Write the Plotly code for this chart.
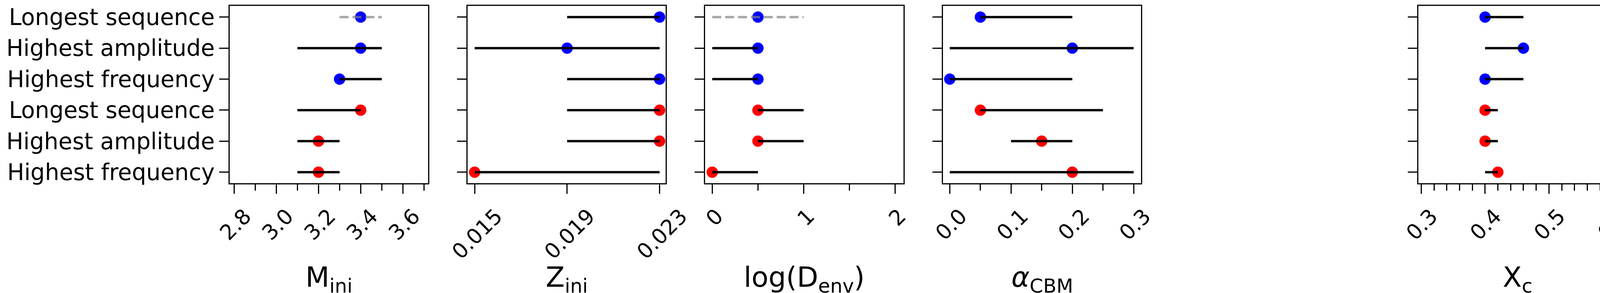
import plotly.graph_objects as go

# rows, top to bottom
row_labels = ["Longest sequence", "Highest amplitude", "Highest frequency",
              "Longest sequence", "Highest amplitude", "Highest frequency"]
row_set = [1, 1, 1, 2, 2, 2]

m_ini_best = [3.4, 3.4, 3.3, 3.4, 3.2, 3.2]
m_ini_lo = [3.3, 3.1, 3.3, 3.1, 3.1, 3.1]
m_ini_hi = [3.5, 3.5, 3.5, 3.4, 3.3, 3.3]
m_ini_open = [True, False, False, False, False, False]

z_ini_best = [0.023, 0.019, 0.023, 0.023, 0.023, 0.015]
z_ini_lo = [0.019, 0.015, 0.019, 0.019, 0.019, 0.015]
z_ini_hi = [0.023, 0.023, 0.023, 0.023, 0.023, 0.023]
z_ini_open = [False, False, False, False, False, False]

log_denv_best = [0.5, 0.5, 0.5, 0.5, 0.5, 0.0]
log_denv_lo = [0.0, 0.0, 0.0, 0.5, 0.5, 0.0]
log_denv_hi = [1.0, 0.5, 0.5, 1.0, 1.0, 0.5]
log_denv_open = [True, False, False, False, False, False]

a_cbm_best = [0.05, 0.2, 0.0, 0.05, 0.15, 0.2]
a_cbm_lo = [0.05, 0.0, 0.0, 0.05, 0.1, 0.0]
a_cbm_hi = [0.2, 0.3, 0.2, 0.25, 0.2, 0.3]
a_cbm_open = [False, False, False, False, False, False]

xc_best = [0.40, 0.46, 0.40, 0.40, 0.40, 0.42]
xc_lo = [0.40, 0.40, 0.40, 0.40, 0.40, 0.40]
xc_hi = [0.46, 0.46, 0.46, 0.42, 0.42, 0.42]
xc_open = [False, False, False, False, False, False]

SET_COLORS = {1: "#0000ff", 2: "#ff0000"}
FONT = "DejaVu Sans"
W, H = 4200, 750

# panel geometry in px (slot 4 is left empty, as in the original)
PANEL_LEFT0 = 588.3
PANEL_STEP = 608.5
PANEL_W = 507.5
BOX_TOP, BOX_BOT = 15.2, 469.3
TITLE_MID = 714

panels = [
    dict(slot=0, title="M<sub>ini</sub>", best=m_ini_best, lo=m_ini_lo, hi=m_ini_hi, open=m_ini_open,
         range=[2.7796, 3.7194], tick0=2.8, dtick=0.2, minor=0.1, fmt=".1f", shift=28),
    dict(slot=1, title="Z<sub>ini</sub>", best=z_ini_best, lo=z_ini_lo, hi=z_ini_hi, open=z_ini_open,
         range=[0.01469, 0.023266], tick0=0.015, dtick=0.004, minor=None, fmt=".3f", shift=55),
    dict(slot=2, title="log(D<sub>env</sub>)", best=log_denv_best, lo=log_denv_lo, hi=log_denv_hi,
         open=log_denv_open, range=[-0.077, 2.092], tick0=0, dtick=1, minor=0.5, fmt="d", shift=12),
    dict(slot=3, title="<i>α</i><sub>CBM</sub>", best=a_cbm_best, lo=a_cbm_lo, hi=a_cbm_hi, open=a_cbm_open,
         range=[-0.0112, 0.3123], tick0=0, dtick=0.1, minor=0.05, fmt=".1f", shift=28),
    dict(slot=5, title="X<sub>c</sub>", best=xc_best, lo=xc_lo, hi=xc_hi, open=xc_open,
         range=[0.2954, 0.6058], tick0=0.3, dtick=0.1, minor=0.02, fmt=".1f", shift=26),
]

rows = list(range(len(row_labels)))
fig = go.Figure()

for k, p in enumerate(panels):
    n = k + 1
    xa = "x" if n == 1 else f"x{n}"
    ya = "y" if n == 1 else f"y{n}"

    # best-fit points
    for s, col in SET_COLORS.items():
        idx = [i for i in rows if row_set[i] == s]
        fig.add_trace(go.Scatter(
            x=[p["best"][i] for i in idx], y=idx, xaxis=xa, yaxis=ya,
            mode="markers", marker=dict(size=29, color=col, line=dict(width=0)),
            hoverinfo="skip", showlegend=False,
        ))

    # intervals, drawn on top of the points
    for i in rows:
        if p["open"][i]:
            line = dict(color="rgba(128,128,128,0.7)", width=6, dash="23px,10px")
        else:
            line = dict(color="black", width=6)
        fig.add_trace(go.Scatter(
            x=[p["lo"][i], p["hi"][i]], y=[i, i], xaxis=xa, yaxis=ya,
            mode="lines", line=line, hoverinfo="skip", showlegend=False,
        ))

    left = PANEL_LEFT0 + p["slot"] * PANEL_STEP
    dom = [left / W, (left + PANEL_W) / W]
    xkw = dict(
        domain=dom, range=p["range"], anchor=ya, automargin=False,
        showline=True, mirror=True, linecolor="black", linewidth=3,
        showgrid=False, zeroline=False,
        ticks="outside", ticklen=24, tickwidth=3, tickcolor="black",
        tick0=p["tick0"], dtick=p["dtick"], tickformat=p["fmt"],
        tickangle=-45, ticklabelshift=p["shift"], ticklabelstandoff=4,
        tickfont=dict(family=FONT, size=54, color="black"),
    )
    if p["minor"]:
        xkw["minor"] = dict(dtick=p["minor"], tick0=p["tick0"], ticks="outside",
                            ticklen=16, tickwidth=3, tickcolor="black", showgrid=False)
    ykw = dict(
        domain=[1 - BOX_BOT / H, 1 - BOX_TOP / H], range=[5.36, -0.36], anchor=xa,
        automargin=False,
        showline=True, mirror=True, linecolor="black", linewidth=3,
        showgrid=False, zeroline=False,
        ticks="outside", ticklen=24, tickwidth=3, tickcolor="black",
        tickvals=rows, ticktext=row_labels, showticklabels=(k == 0),
        tickfont=dict(family=FONT, size=58, color="black"),
    )
    fig.update_layout({("xaxis" if n == 1 else f"xaxis{n}"): xkw,
                       ("yaxis" if n == 1 else f"yaxis{n}"): ykw})

    fig.add_annotation(
        text=p["title"], xref="paper", yref="paper",
        x=(left + PANEL_W / 2) / W, y=1 - TITLE_MID / H, xanchor="center", yanchor="middle",
        showarrow=False, font=dict(family=FONT, size=71, color="black"),
    )

fig.update_layout(
    width=W, height=H,
    margin=dict(l=0, r=0, t=0, b=0, autoexpand=False),
    paper_bgcolor="white", plot_bgcolor="white",
    showlegend=False,
    font=dict(family=FONT, color="black"),
)

# the page's default body margin would push the figure 8px right and down
fig.write_html("out.html", config={"displayModeBar": False},
               post_script="document.body.style.margin = '0';")
